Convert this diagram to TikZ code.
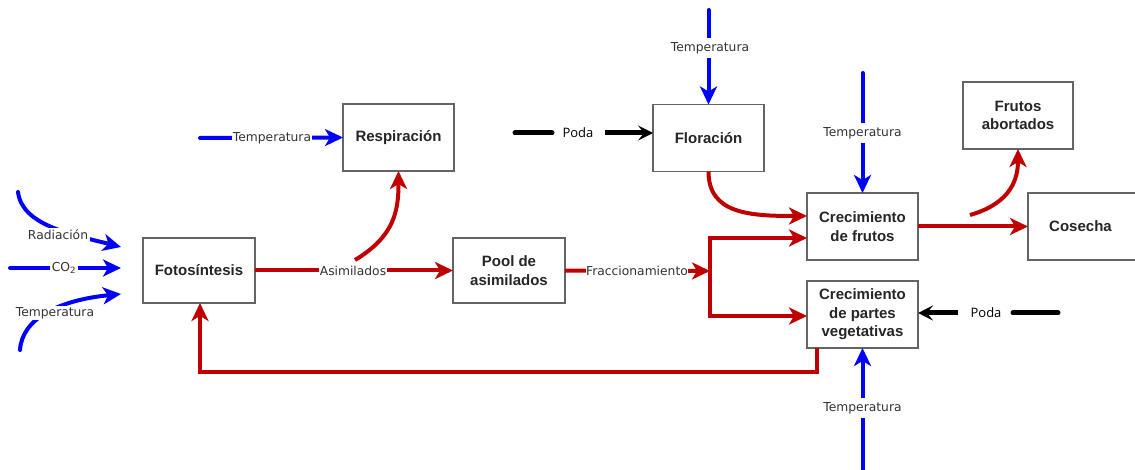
\documentclass[tikz,border=0pt]{standalone}
\usepackage{fontspec}
\setmainfont{Liberation Sans}
\newfontfamily\lblfont{DejaVu Sans}
\newfontfamily\podafont{Open Sans}
\usetikzlibrary{arrows.meta}
\definecolor{cblue}{RGB}{0,0,255}
\definecolor{cred}{RGB}{192,0,0}
\definecolor{cbox}{RGB}{100,100,100}
\tikzset{
  box/.style={draw=cbox, line width=1.1pt, fill=white, inner sep=0pt, outer sep=0pt,
    minimum width=111pt, minimum height=67pt, align=center,
    font=\fontsize{15}{18.5}\selectfont\bfseries, text=black!85},
  bluearr/.style={draw=cblue, line width=4pt, line cap=round,
    -{Stealth[length=18pt,width=17pt,inset=5pt]}},
  blueline/.style={draw=cblue, line width=4pt, line cap=round},
  redarr/.style={draw=cred, line width=4pt,
    -{Stealth[length=18pt,width=17pt,inset=5pt]}},
  redline/.style={draw=cred, line width=4pt},
  blackarr/.style={draw=black, line width=5pt,
    -{Stealth[length=15pt,width=15pt,inset=6pt]}},
  blackline/.style={draw=black, line width=5pt, line cap=round},
  lbl/.style={font=\lblfont\fontsize{12.3}{14}\selectfont, text=black!80, fill=white, inner sep=1.5pt},
  podalbl/.style={font=\podafont\fontsize{13}{15}\selectfont, text=black, fill=white, inner sep=1pt},
}
\begin{document}
\begin{tikzpicture}[x=1pt,y=-1pt]
\useasboundingbox (0,0) rectangle (1135,470);

% boxes
\node[box] (foto) at (199,270.5) [minimum width=112pt, minimum height=65pt] {Fotosíntesis};
\node[box] (resp) at (398.5,137.5) {Respiración};
\node[box] (pool) at (509,270.5) [minimum width=112pt, minimum height=65pt] {Pool de\\asimilados};
\node[box] (flor) at (708.5,138) {Floración};
\node[box] (frut) at (862.5,226.5) {Crecimiento\\de frutos};
\node[box] (veg) at (862.5,314.5) {Crecimiento\\de partes\\vegetativas};
\node[box] (abor) at (1018,115.5) [minimum width=110pt] {Frutos\\abortados};
\node[box] (cos) at (1086,226.5) [minimum width=116pt] {\hspace*{-11pt}Cosecha};

% free-end coordinates
\coordinate (radS) at (18,192);
\coordinate (radE) at (121,247);
\coordinate (co2S) at (10,268);
\coordinate (co2E) at (121,268);
\coordinate (tmpS) at (20,350);
\coordinate (tmpE) at (121,294);
\coordinate (trS) at (200,138);
\coordinate (asimC) at (355,260);
\coordinate (split) at (710,271);
\coordinate (splitT) at (710,238);
\coordinate (splitB) at (710,316);
\coordinate (tfS) at (708.5,10);
\coordinate (podaS) at (515,133);
\coordinate (podaM) at (605,133);
\coordinate (tfrS) at (862.5,73);
\coordinate (abC) at (970,215);
\coordinate (poda2S) at (1058,313);
\coordinate (poda2M) at (958,313);
\coordinate (tvS) at (862.5,470);
\coordinate (fbA) at (817,372);
\coordinate (fbB) at (200,372);

% blue inputs to Fotosintesis
\draw[bluearr] (radS) .. controls (22,225) and (70,234) .. (radE);
\draw[bluearr] (co2S) -- (co2E);
\draw[bluearr] (tmpS) .. controls (22,318) and (60,300) .. (tmpE);
\node[lbl] at (58,235) {Radiación};
\node[lbl] at (64,268) {CO\textsubscript{2}};
\node[lbl] at (55,313) {Temperatura};

% Temperatura -> Respiracion
\draw[bluearr] (trS) -- (resp.west);
\node[lbl, inner sep=0.5pt] at (272,138) {Temperatura};

% Asimilados
\draw[redarr] (foto.east) -- (pool.west);
\draw[redarr] (asimC) .. controls (395,236) and (398.5,210) .. (resp.south);
\node[lbl, inner sep=0.5pt] at (353,271) {Asimilados};

% Fraccionamiento
\draw[redarr] (pool.east) -- (split);
\draw[redline, line cap=rect] (splitT) -- (splitB);
\draw[redarr] (splitT) -- (splitT -| frut.west);
\draw[redarr] (splitB) -- (splitB -| veg.west);
\node[lbl, inner sep=0.5pt] at (637,271) {Fraccionamiento};

% Floracion inputs/outputs
\draw[bluearr] (tfS) -- (flor.north);
\node[lbl, inner sep=4pt] at (710,48) {Temperatura};
\draw[blackline] (podaS) -- (552,133);
\draw[blackarr] (podaM) -- (podaM -| flor.west);
\node[podalbl] at (578,133) {Poda};
\draw[redarr] (flor.south) .. controls (708.5,214) and (750,216) .. (frut.west |- 0,216);

% Crecimiento de frutos
\draw[bluearr] (tfrS) -- (frut.north);
\node[lbl, inner sep=4pt] at (862.5,133) {Temperatura};
\draw[redarr] (frut.east) -- (cos.west);
\draw[redarr] (abC) .. controls (1005,205) and (1018,185) .. (abor.south);

% Vegetativas
\draw[blackline] (poda2S) -- (1013,313);
\draw[blackarr] (poda2M) -- (poda2M -| veg.east);
\node[podalbl] at (986,313) {Poda};
\draw[bluearr] (tvS) -- (veg.south);
\node[lbl, inner sep=4pt] at (862.5,408) {Temperatura};

% feedback
\draw[redarr] (veg.south -| fbA) -- (fbA) -- (fbB) -- (foto.south -| fbB);
\end{tikzpicture}
\end{document}
